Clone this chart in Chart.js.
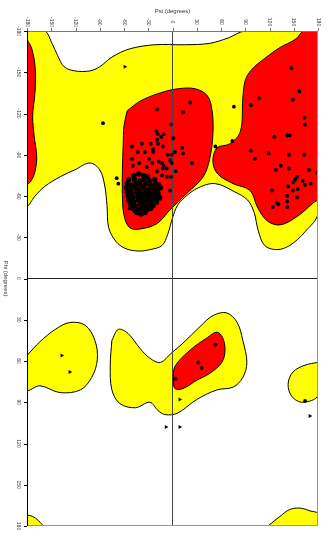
<!DOCTYPE html>
<html>
<head>
<meta charset="utf-8">
<script src="https://cdn.jsdelivr.net/npm/chart.js@4"></script>
<style>
  body { margin: 0; background: #fff; }
</style>
</head>
<body>
<canvas id="rama" width="332" height="537"></canvas>
<script>
// axis ticks (degrees)
const psiTicks = [-180, -150, -120, -90, -60, -30, 0, 30, 60, 90, 120, 150, 180];
const phiTicks = [-180, -150, -120, -90, -60, -30, 0, 30, 60, 90, 120, 150, 180];

// contour outlines, [psi, phi] in degrees
const yellowTop = [
  [-180, -180], [-158, -180], [-149, -171], [-142, -162], [-134, -154], [-121, -151], [-102, -151],
  [-90, -154], [-75, -161], [-53, -167], [-22, -170], [15, -170], [46, -171], [69, -175], [90, -180],
  [180, -180], [180, -48], [164, -34], [145, -24], [129, -21], [114, -24], [106, -35], [101, -48],
  [93, -57], [77, -63], [53, -69], [32, -66], [15, -59], [6, -53], [0, -44], [-6, -32], [-13, -24],
  [-28, -21], [-43, -20], [-59, -22], [-70, -27], [-79, -37], [-81, -53], [-84, -68], [-90, -79],
  [-102, -84], [-121, -79], [-139, -74], [-158, -67], [-170, -60], [-180, -53]
];
const yellowLeftLower = [
  [-180, 56], [-164, 46], [-145, 37], [-127, 32], [-108, 34], [-96, 45], [-93, 59], [-100, 72],
  [-114, 81], [-139, 83], [-164, 78], [-180, 81]
];
const yellowLeftHanded = [
  [-75, 45], [-67, 37], [-55, 40], [-40, 51], [-28, 58], [-15, 61], [-1, 54], [13, 47], [34, 35],
  [50, 27], [67, 25], [80, 32], [87, 45], [92, 61], [87, 72], [75, 79], [55, 81], [30, 88], [6, 98],
  [-9, 99], [-18, 96], [-28, 90], [-46, 94], [-65, 91], [-75, 81], [-77, 63]
];
const yellowRightLower = [[180, 61], [164, 63], [149, 68], [143, 77], [148, 86], [161, 90], [180, 85]];
const yellowCornerBL = [[-180, 172], [-173, 173], [-166, 176], [-161, 180], [-180, 180]];
const yellowCornerBR = [[118, 180], [133, 173], [145, 168], [158, 167], [170, 169], [180, 171], [180, 180]];

const redAlpha = [
  [-56, -122], [-40, -129], [-15, -135], [7, -138], [28, -138], [43, -133], [49, -122], [50, -105],
  [46, -87], [38, -74], [18, -62], [-3, -50], [-19, -40], [-40, -36], [-53, -37], [-60, -46],
  [-62, -61], [-62, -79], [-61, -97], [-60, -111]
];
const redLeftEdge = [
  [-180, -174], [-174, -167], [-170, -154], [-170, -136], [-173, -118], [-171, -103], [-168, -89],
  [-170, -78], [-175, -71], [-180, -69]
];
const redBeta = [
  [161, -180], [180, -180], [180, -58], [174, -55], [154, -45], [133, -39], [117, -42], [105, -52],
  [96, -64], [75, -69], [56, -76], [50, -85], [55, -95], [71, -98], [84, -107], [87, -131], [90, -144],
  [98, -152], [114, -160], [133, -168], [152, -174]
];
const redLeftHanded = [
  [1, 74], [3, 64], [22, 52], [43, 43], [55, 39], [62, 43], [65, 52], [61, 61], [46, 69], [30, 74],
  [13, 80], [3, 80]
];

// residues [psi, phi]
const betaResidues = [
  [147, -153], [157, -136], [149, -130], [107, -131], [97, -126], [76, -125], [163, -117], [164, -112],
  [126, -103], [142, -104], [145, -104], [74, -100], [53, -96], [97, -93], [102, -87], [119, -91],
  [144, -90], [163, -90], [134, -82], [128, -79], [144, -80], [169, -79], [179, -77], [154, -74],
  [152, -72], [149, -70], [161, -71], [143, -67], [155, -65], [149, -64], [164, -68], [171, -69],
  [123, -64], [142, -60], [154, -59], [129, -55], [131, -54], [142, -56], [124, -52], [142, -52]
];
const alphaResidues = [
  [-86, -113], [-19, -123], [22, -128], [13, -121], [-2, -112], [-20, -107], [-18, -105], [-11, -105],
  [-14, -103], [-19, -101], [1, -102], [-50, -96], [-38, -98], [-27, -98], [-18, -98], [-12, -96],
  [-24, -94], [-24, -92], [12, -95], [13, -91], [3, -92], [-34, -92], [-43, -92], [-1, -90], [-6, -90],
  [-50, -87], [-41, -84], [-29, -87], [-25, -84], [-17, -85], [-13, -84], [-3, -86], [-1, -84],
  [-11, -82], [-7, -80], [-12, -80], [-32, -81], [-49, -82], [-19, -78], [4, -78], [-13, -75],
  [-2, -74], [-7, -74], [-69, -73], [-67, -69], [24, -84], [-3, -64], [-15, -58], [-19, -55],
  [-30, -51], [-47, -49], [-53, -51]
];
const alphaCore = [
  [-48, -75], [-42, -76], [-36, -75], [-31, -74],
  [-54, -72], [-47, -72], [-40, -71], [-35, -72], [-28, -71], [-22, -72],
  [-56, -69], [-51, -68], [-45, -69], [-39, -68], [-33, -69], [-27, -68], [-21, -69], [-17, -68],
  [-57, -66], [-52, -65], [-46, -66], [-41, -65], [-36, -66], [-30, -65], [-25, -66], [-19, -65], [-15, -66],
  [-56, -63], [-50, -62], [-44, -63], [-38, -62], [-33, -63], [-28, -62], [-23, -63], [-18, -62],
  [-55, -60], [-49, -59], [-43, -60], [-37, -59], [-32, -60], [-26, -59], [-21, -60], [-16, -59],
  [-54, -57], [-48, -56], [-42, -57], [-36, -56], [-31, -57], [-25, -56], [-20, -57],
  [-52, -54], [-46, -53], [-40, -54], [-35, -53], [-29, -54], [-24, -53],
  [-49, -51], [-43, -50], [-38, -51], [-32, -50], [-27, -51],
  [-44, -48], [-39, -47], [-34, -48]
];
const leftHandedResidues = [[53, 48], [32, 61], [36, 65], [4, 73], [164, 89]];
const glycines = [[-59, -154], [9, 88], [-8, 108], [9, 108], [-137, 56], [-127, 68], [170, 100]];

const pts = (arr) => arr.map(([x, y]) => ({ x, y }));
const closed = (arr) => pts([...arr, arr[0]]);

function region(outline, color, order) {
  return {
    data: closed(outline),
    showLine: true,
    fill: "shape",
    backgroundColor: color,
    borderColor: "#000",
    borderWidth: 1,
    pointRadius: 0,
    tension: 0.35,
    clip: 0,
    order: order,
  };
}

function residues(list, radius) {
  return {
    data: pts(list),
    pointRadius: radius,
    pointBackgroundColor: "#000",
    pointBorderWidth: 0,
    order: 1,
  };
}

const axesPlugin = {
  id: "ramaAxes",
  afterDraw(chart) {
    const { ctx, chartArea: a, scales } = chart;
    const xs = scales.x;
    const ys = scales.y;
    ctx.save();
    ctx.lineWidth = 1;

    // frame
    ctx.strokeStyle = "#999";
    ctx.beginPath();
    ctx.moveTo(a.right - 0.5, a.top);
    ctx.lineTo(a.right - 0.5, a.bottom);
    ctx.moveTo(a.left, a.bottom - 0.5);
    ctx.lineTo(a.right, a.bottom - 0.5);
    ctx.stroke();

    // top axis (psi)
    ctx.strokeStyle = "#777";
    ctx.beginPath();
    ctx.moveTo(a.left, a.top + 0.5);
    ctx.lineTo(a.right, a.top + 0.5);
    psiTicks.forEach((v) => {
      const px = Math.round(xs.getPixelForValue(v)) + 0.5;
      ctx.moveTo(px, a.top - 3);
      ctx.lineTo(px, a.top);
    });
    ctx.stroke();

    // left axis (phi)
    ctx.strokeStyle = "#000";
    ctx.beginPath();
    ctx.moveTo(a.left + 0.5, a.top);
    ctx.lineTo(a.left + 0.5, a.bottom);
    phiTicks.forEach((v) => {
      const py = Math.round(ys.getPixelForValue(v)) + 0.5;
      ctx.moveTo(a.left - 3, py);
      ctx.lineTo(a.left, py);
    });
    ctx.stroke();

    ctx.fillStyle = "#333";
    ctx.font = '5px "Liberation Sans", Arial, sans-serif';
    ctx.textAlign = "center";
    ctx.textBaseline = "middle";
    psiTicks.forEach((v) => {
      ctx.save();
      ctx.translate(xs.getPixelForValue(v), a.top - 9);
      ctx.rotate(Math.PI / 2);
      ctx.fillText(String(v), 0, 0);
      ctx.restore();
    });
    phiTicks.forEach((v) => {
      ctx.save();
      ctx.translate(a.left - 9, ys.getPixelForValue(v));
      ctx.rotate(Math.PI / 2);
      ctx.fillText(String(v), 0, 0);
      ctx.restore();
    });

    ctx.font = '6px "Liberation Sans", Arial, sans-serif';
    ctx.fillText("Psi (degrees)", (a.left + a.right) / 2, 11);
    ctx.save();
    ctx.translate(6, (a.top + a.bottom) / 2);
    ctx.rotate(Math.PI / 2);
    ctx.fillText("Phi (degrees)", 0, 0);
    ctx.restore();

    ctx.restore();
  },
};

new Chart(document.getElementById("rama"), {
  type: "scatter",
  data: {
    datasets: [
      region(yellowTop, "#ffff00", 5),
      region(yellowLeftLower, "#ffff00", 5),
      region(yellowLeftHanded, "#ffff00", 5),
      region(yellowRightLower, "#ffff00", 5),
      region(yellowCornerBL, "#ffff00", 5),
      region(yellowCornerBR, "#ffff00", 5),
      region(redAlpha, "#ff0000", 4),
      region(redLeftEdge, "#ff0000", 4),
      region(redBeta, "#ff0000", 4),
      region(redLeftHanded, "#ff0000", 4),
      {
        data: [{ x: 0, y: -180 }, { x: 0, y: 180 }],
        showLine: true,
        borderColor: "#444",
        borderWidth: 1,
        pointRadius: 0,
        order: 3,
      },
      {
        data: [{ x: -180, y: 0 }, { x: 180, y: 0 }],
        showLine: true,
        borderColor: "#222",
        borderWidth: 1,
        pointRadius: 0,
        order: 3,
      },
      residues([...betaResidues, ...alphaResidues, ...leftHandedResidues], 1.9),
      residues(alphaCore, 2.7),
      {
        data: pts(glycines),
        pointStyle: "triangle",
        rotation: 90,
        pointRadius: 2.4,
        pointBackgroundColor: "#000",
        pointBorderWidth: 0,
        order: 0,
      },
    ],
  },
  options: {
    responsive: false,
    animation: false,
    devicePixelRatio: 1,
    layout: {
      padding: { left: 27, top: 31, right: 14, bottom: 11 },
    },
    plugins: {
      legend: { display: false },
      tooltip: { enabled: false },
    },
    scales: {
      x: { type: "linear", min: -180, max: 180, display: false },
      y: { type: "linear", min: -180, max: 180, reverse: true, display: false },
    },
  },
  plugins: [axesPlugin],
});
</script>
</body>
</html>
